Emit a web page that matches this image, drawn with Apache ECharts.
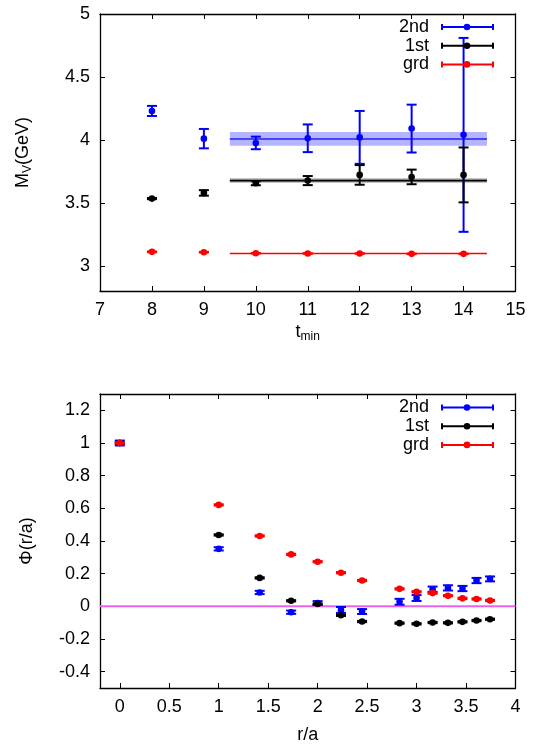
<!DOCTYPE html>
<html>
<head>
<meta charset="utf-8">
<script src="https://cdn.jsdelivr.net/npm/echarts@6/dist/echarts.min.js"></script>
<style>
  html, body { margin: 0; padding: 0; background: #fff; }
  #chart { width: 537px; height: 745px; }
</style>
</head>
<body>
<div id="chart"></div>
<script>
// ---- Upper panel: vector mass vs. fit start t_min ----
const tmin = [8, 9, 10, 11, 12, 13, 14];
const mv2nd    = [4.23, 4.01, 3.976, 4.013, 4.02, 4.09, 4.04];
const mv2ndErr = [0.04, 0.077, 0.05, 0.11, 0.21, 0.19, 0.77];
const mv1st    = [3.534, 3.579, 3.656, 3.677, 3.722, 3.706, 3.722];
const mv1stErr = [0.005, 0.022, 0.016, 0.036, 0.078, 0.058, 0.218];
const mvGrd    = [3.111, 3.108, 3.100, 3.098, 3.098, 3.095, 3.095];
const mvGrdErr = [0.003, 0.003, 0.002, 0.002, 0.002, 0.002, 0.002];
// plateau fits: [value, error] over the t range below
const fitRange = [9.5, 14.45];
const fit2nd = [4.008, 0.055];
const fit1st = [3.677, 0.018];
const fitGrd = [3.098, 0.002];
const mvTicksY = [3, 3.5, 4, 4.5, 5];

// ---- Lower panel: wave functions vs. r/a ----
const ra = [0, 1, 1.414, 1.732, 2, 2.236, 2.449, 2.828, 3, 3.162, 3.317, 3.464, 3.606, 3.742];
const phiGrd    = [1.0, 0.621, 0.431, 0.318, 0.273, 0.206, 0.158, 0.107, 0.089, 0.081, 0.065, 0.049, 0.045, 0.036];
const phiGrdErr = [0.004, 0.004, 0.004, 0.004, 0.004, 0.004, 0.004, 0.004, 0.004, 0.004, 0.004, 0.004, 0.004, 0.004];
const phi1st    = [1.0, 0.437, 0.174, 0.034, 0.014, -0.055, -0.093, -0.103, -0.107, -0.099, -0.101, -0.095, -0.087, -0.079];
const phi1stErr = [0.005, 0.004, 0.004, 0.004, 0.004, 0.004, 0.004, 0.004, 0.004, 0.004, 0.004, 0.004, 0.004, 0.004];
const phi2nd    = [1.0, 0.352, 0.085, -0.036, 0.020, -0.022, -0.032, 0.028, 0.051, 0.105, 0.113, 0.109, 0.158, 0.168];
const phi2ndErr = [0.015, 0.010, 0.010, 0.010, 0.012, 0.018, 0.015, 0.018, 0.018, 0.016, 0.016, 0.016, 0.016, 0.015];
const phiTicksX = [0, 0.5, 1, 1.5, 2, 2.5, 3, 3.5, 4];
const phiTicksY = [-0.4, -0.2, 0, 0.2, 0.4, 0.6, 0.8, 1, 1.2];

const BLUE = '#0000ff', BLACK = '#000000', RED = '#ff0000';
const FONT = 'Liberation Sans, Arial, Helvetica, sans-serif';
const FS = 18;

function zip3(x, y, e) { return x.map((v, i) => [v, y[i], e[i]]); }

// vertical error bar with caps and a filled dot
function errorBarSeries(name, xi, yi, data, color) {
  return {
    name, type: 'custom', xAxisIndex: xi, yAxisIndex: yi, z: 5,
    data,
    renderItem(params, api) {
      const x = api.value(0), y = api.value(1), e = api.value(2);
      const pt = api.coord([x, y]);
      const hi = api.coord([x, y + e]);
      const lo = api.coord([x, y - e]);
      const cw = 5;
      const st = { stroke: color, lineWidth: 2 };
      return {
        type: 'group',
        children: [
          { type: 'line', shape: { x1: pt[0], y1: hi[1], x2: pt[0], y2: lo[1] }, style: st },
          { type: 'line', shape: { x1: pt[0] - cw, y1: hi[1], x2: pt[0] + cw, y2: hi[1] }, style: st },
          { type: 'line', shape: { x1: pt[0] - cw, y1: lo[1], x2: pt[0] + cw, y2: lo[1] }, style: st },
          { type: 'circle', shape: { cx: pt[0], cy: pt[1], r: 3.3 }, style: { fill: color } }
        ]
      };
    }
  };
}

// horizontal plateau band with its central line
function fitSeries(name, fit, lineColor, bandColor, lineWidth) {
  return {
    name, type: 'custom', xAxisIndex: 0, yAxisIndex: 0, z: 3,
    data: [[fitRange[0], fitRange[1], fit[0], fit[1]]],
    renderItem(params, api) {
      const x0 = api.value(0), x1 = api.value(1), v = api.value(2), e = api.value(3);
      const a = api.coord([x0, v + e]);
      const b = api.coord([x1, v - e]);
      const c0 = api.coord([x0, v]);
      const c1 = api.coord([x1, v]);
      const kids = [];
      if (bandColor) {
        kids.push({ type: 'rect', shape: { x: a[0], y: a[1], width: b[0] - a[0], height: b[1] - a[1] },
                    style: { fill: bandColor } });
      }
      kids.push({ type: 'line', shape: { x1: c0[0], y1: c0[1], x2: c1[0], y2: c1[1] },
                  style: { stroke: lineColor, lineWidth } });
      return { type: 'group', children: kids };
    }
  };
}

const frameLine = { show: true, onZero: false, lineStyle: { color: '#000', width: 1.3 } };
const tickIn = { show: true, inside: true, length: 5, lineStyle: { color: '#000', width: 1 } };
const lbl = { color: '#000', fontSize: FS, fontFamily: FONT, margin: 10 };

function axisPair(kind, gridIndex, min, max, ticks, interval, extra) {
  const main = Object.assign({
    type: 'value', gridIndex, min, max,
    position: kind === 'x' ? 'bottom' : 'left',
    splitLine: { show: false },
    axisLine: frameLine,
    axisTick: Object.assign({}, tickIn, ticks ? { customValues: ticks } : {}),
    axisLabel: Object.assign({}, lbl, ticks ? { customValues: ticks } : {}),
  }, interval ? { interval } : {}, extra || {});
  const mirror = Object.assign({
    type: 'value', gridIndex, min, max,
    position: kind === 'x' ? 'top' : 'right',
    splitLine: { show: false },
    axisLine: frameLine,
    axisTick: Object.assign({}, tickIn, ticks ? { customValues: ticks } : {}),
    axisLabel: { show: false },
  }, interval ? { interval } : {});
  return [main, mirror];
}

const subRich = {
  m: { fontSize: FS, fontFamily: FONT, color: '#000', lineHeight: 22 },
  s: { fontSize: 12, fontFamily: FONT, color: '#000', lineHeight: 12, verticalAlign: 'bottom' }
};

const [x0a, x0b] = axisPair('x', 0, 7, 15, null, 1, {
  name: '{m|t}{s|min}', nameLocation: 'middle', nameGap: 30,
  nameTextStyle: { rich: subRich }
});
const [y0a, y0b] = axisPair('y', 0, 2.8, 5, mvTicksY, null, {
  name: '{m|M}{s|V}{m|(GeV)}', nameLocation: 'middle', nameRotate: 90, nameGap: 66,
  nameTextStyle: { rich: subRich }
});
const [x1a, x1b] = axisPair('x', 1, -0.2, 4, phiTicksX, null, {
  name: 'r/a', nameLocation: 'middle', nameGap: 38,
  nameTextStyle: { color: '#000', fontSize: FS, fontFamily: FONT }
});
const [y1a, y1b] = axisPair('y', 1, -0.5, 1.3, phiTicksY, null, {
  name: 'Φ(r/a)', nameLocation: 'middle', nameRotate: 90, nameGap: 64,
  nameTextStyle: { color: '#000', fontSize: FS, fontFamily: FONT }
});

// legend entries drawn as text plus a horizontal error-bar sample
function legendBlock(top) {
  const entries = [['2nd', BLUE], ['1st', BLACK], ['grd', RED]];
  const out = [];
  entries.forEach(([label, color], i) => {
    const y = top + i * 18.7;
    out.push({ type: 'text', x: 429, y, style: { text: label, fill: '#000', font: FS + 'px ' + FONT,
               textAlign: 'right', textVerticalAlign: 'middle' }, z: 20 });
    const st = { stroke: color, lineWidth: 2 };
    out.push({ type: 'line', shape: { x1: 442, y1: y, x2: 493, y2: y }, style: st, z: 20 });
    out.push({ type: 'line', shape: { x1: 442, y1: y - 3, x2: 442, y2: y + 3 }, style: st, z: 20 });
    out.push({ type: 'line', shape: { x1: 493, y1: y - 3, x2: 493, y2: y + 3 }, style: st, z: 20 });
    out.push({ type: 'circle', shape: { cx: 467, cy: y, r: 3.3 }, style: { fill: color }, z: 20 });
  });
  return out;
}

const chart = echarts.init(document.getElementById('chart'), null, { renderer: 'canvas' });
chart.setOption({
  animation: false,
  backgroundColor: '#fff',
  grid: [
    { left: 100, right: 21.5, top: 14, height: 277 },
    { left: 100, right: 21.5, top: 394, height: 295 }
  ],
  xAxis: [x0a, x0b, x1a, x1b],
  yAxis: [y0a, y0b, y1a, y1b],
  graphic: legendBlock(27).concat(legendBlock(407.5)),
  series: [
    fitSeries('fit 2nd', fit2nd, '#4646ff', 'rgba(90,90,255,0.45)', 2),
    fitSeries('fit 1st', fit1st, '#000000', 'rgba(0,0,0,0.3)', 1.6),
    fitSeries('fit grd', fitGrd, '#ff0000', null, 1.5),
    errorBarSeries('2nd', 0, 0, zip3(tmin, mv2nd, mv2ndErr), BLUE),
    errorBarSeries('1st', 0, 0, zip3(tmin, mv1st, mv1stErr), BLACK),
    errorBarSeries('grd', 0, 0, zip3(tmin, mvGrd, mvGrdErr), RED),
    {
      name: 'zero', type: 'line', xAxisIndex: 2, yAxisIndex: 2, z: 2,
      data: [[-0.2, 0], [4, 0]], symbol: 'none', silent: true,
      lineStyle: { color: '#f060f0', width: 2 }
    },
    errorBarSeries('2nd', 2, 2, zip3(ra, phi2nd, phi2ndErr), BLUE),
    errorBarSeries('1st', 2, 2, zip3(ra, phi1st, phi1stErr), BLACK),
    errorBarSeries('grd', 2, 2, zip3(ra, phiGrd, phiGrdErr), RED)
  ]
});
</script>
</body>
</html>
